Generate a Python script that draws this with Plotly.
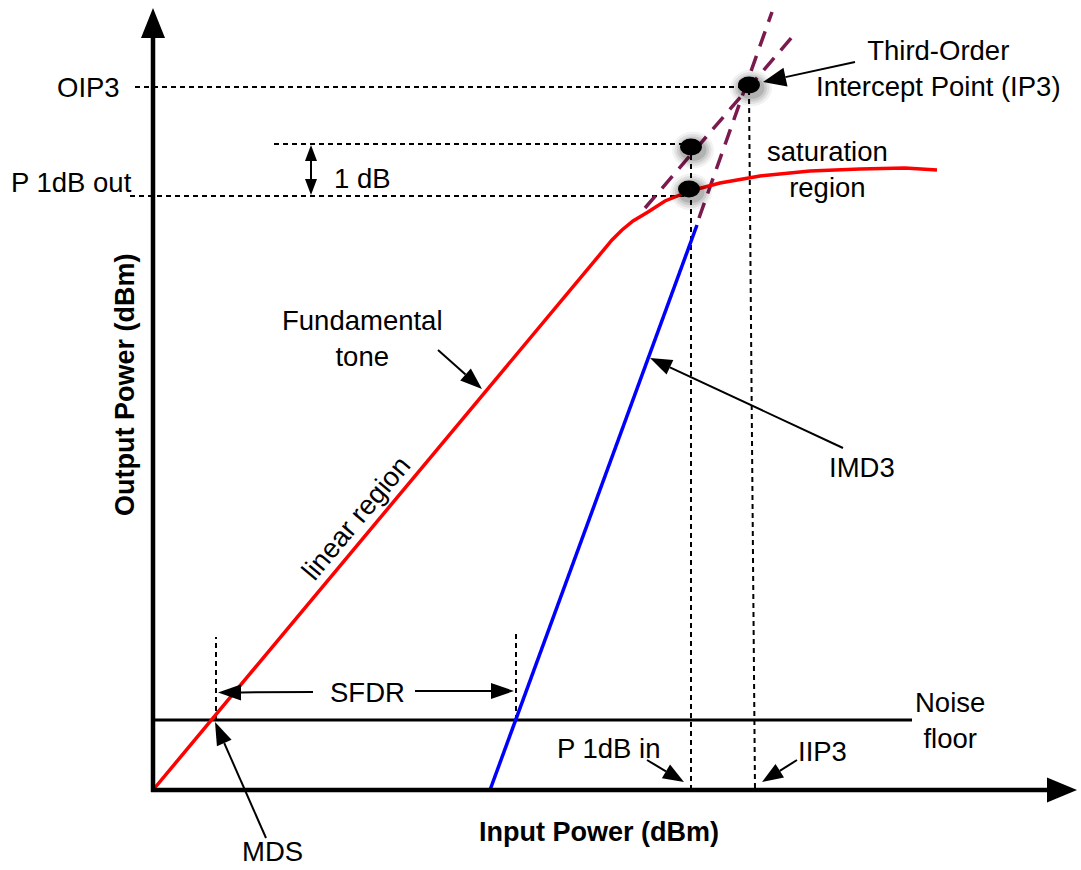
import math
import plotly.graph_objects as go

# Diagram units: 10 px per unit on both axes, origin at the axes corner.
PX = 10.0
X_RANGE = [-15.3, 92.8]
Y_RANGE = [-8.0, 79.0]

# Fundamental tone (linear region, then compression into saturation)
fund_in = [0.0, 45.9, 46.9, 48.0, 49.5, 51.2, 53.7, 56.7, 60.7, 65.7, 70.7, 75.2, 78.4]
fund_out = [0.0, 55.0, 56.0, 56.9, 57.8, 58.9, 59.9, 60.7, 61.4, 61.9, 62.1, 62.2, 62.0]

# Third-order intermodulation product
imd3_in = [33.7, 54.4]
imd3_out = [0.0, 56.5]

# Extrapolated lines meeting at the intercept point
fund_ext_in = [49.2, 64.0]
fund_ext_out = [58.2, 75.4]
imd3_ext_in = [54.6, 61.9]
imd3_ext_out = [57.2, 77.8]

# Noise floor
noise_level = 7.0
noise_end = 75.9

# Marked points: P1dB (compressed), uncompressed level, IP3
pt_in = [53.6, 53.8, 59.6]
pt_out = [60.1, 64.3, 70.5]

# Reference levels
oip3_level = 70.3
p1db_out_level = 59.4
uncompressed_level = 64.6
p1db_in_level = 53.8
iip3_top = [59.6, 70.0]
iip3_bottom = [60.2, 0.0]
mds_in = 6.3
sfdr_edge_in = 36.3

FONT = "Liberation Sans, Arial, sans-serif"
RED = "#ff0000"
BLUE = "#0000ff"
PURPLE = "#7a1a4e"

fig = go.Figure()

# Dotted guide lines
guides = [
    ([-1.8, pt_in[2]], [oip3_level, oip3_level]),
    ([12.1, pt_in[1]], [uncompressed_level, uncompressed_level]),
    ([-2.3, pt_in[0]], [p1db_out_level, p1db_out_level]),
    ([p1db_in_level, p1db_in_level], [0.0, pt_out[1]]),
    ([iip3_top[0], iip3_bottom[0]], [iip3_top[1], iip3_bottom[1]]),
    ([mds_in, mds_in], [noise_level, 15.3]),
    ([sfdr_edge_in, sfdr_edge_in], [noise_level, 16.0]),
]
for gx, gy in guides:
    fig.add_trace(go.Scatter(x=gx, y=gy, mode="lines",
                             line=dict(color="black", width=2, dash="5px,4px")))

# Noise floor
fig.add_trace(go.Scatter(x=[0.0, noise_end], y=[noise_level, noise_level], mode="lines",
                         line=dict(color="black", width=3)))

# Extrapolations
fig.add_trace(go.Scatter(x=fund_ext_in, y=fund_ext_out, mode="lines",
                         line=dict(color=PURPLE, width=3.5, dash="16px,10px")))
fig.add_trace(go.Scatter(x=imd3_ext_in, y=imd3_ext_out, mode="lines",
                         line=dict(color=PURPLE, width=3.5, dash="16px,10px")))

# Fundamental and IMD3
fig.add_trace(go.Scatter(x=imd3_in, y=imd3_out, mode="lines",
                         line=dict(color=BLUE, width=3.5)))
fig.add_trace(go.Scatter(x=fund_in, y=fund_out, mode="lines",
                         line=dict(color=RED, width=3.5)))

shapes = []


def arrow(x0, y0, x1, y1, lw=2.0, hl=22.0, hw=16.0, both=False):
    """Line from (x0,y0) to (x1,y1) with filled triangular head(s), sizes in px."""
    dx, dy = (x1 - x0), (y1 - y0)
    L = math.hypot(dx, dy)
    ux, uy = dx / L, dy / L
    nx, ny = -uy, ux
    h, w = hl / PX, hw / PX / 2

    def head(tx, ty, sx, sy):
        bx, by = tx - sx * h, ty - sy * h
        p = (f"M {tx},{ty} L {bx + nx * w},{by + ny * w} "
             f"L {bx - nx * w},{by - ny * w} Z")
        shapes.append(dict(type="path", path=p, xref="x", yref="y",
                           fillcolor="black", line=dict(width=0)))
        return bx, by

    ex, ey = head(x1, y1, ux, uy)
    sx, sy = x0, y0
    if both:
        sx, sy = head(x0, y0, -ux, -uy)
    shapes.append(dict(type="line", xref="x", yref="y", x0=sx, y0=sy, x1=ex, y1=ey,
                       line=dict(color="black", width=lw)))


# Axes
arrow(0.0, -0.2, 0.0, 78.2, lw=4.5, hl=30, hw=24)
arrow(-0.2, 0.0, 92.4, 0.0, lw=4.5, hl=30, hw=25)

# Pointer arrows
arrow(16.0, 9.8, 6.5, 9.75, hl=23, hw=16)           # SFDR left
arrow(26.2, 9.9, 36.1, 9.9, hl=23, hw=16)           # SFDR right
arrow(11.3, -4.8, 6.2, 6.8, hl=23, hw=16)           # MDS
arrow(49.4, 3.0, 53.1, 0.8, hl=21, hw=16)           # P 1dB in
arrow(64.4, 3.0, 60.9, 0.8, hl=21, hw=16)           # IIP3
arrow(70.2, 72.8, 61.0, 70.8, hl=23, hw=19)         # IP3
arrow(28.5, 44.0, 32.9, 40.1, hl=22, hw=16)         # Fundamental tone
arrow(69.0, 34.2, 49.7, 43.2, hl=22, hw=16)         # IMD3
arrow(15.8, uncompressed_level - 0.1, 15.8, p1db_out_level + 0.1,
      hl=16, hw=12, both=True)                      # 1 dB

# Points with soft shadows
dot_w, dot_h = 2.2, 1.7
for xi, yi in zip(pt_in, pt_out):
    for k, a in [(1.0, 0.05), (0.75, 0.07), (0.5, 0.09), (0.25, 0.12)]:
        shapes.append(dict(type="circle", xref="x", yref="y",
                           x0=xi - dot_w / 2 - k + 0.2, x1=xi + dot_w / 2 + k + 0.2,
                           y0=yi - dot_h / 2 - k - 0.3, y1=yi + dot_h / 2 + k - 0.3,
                           fillcolor=f"rgba(0,0,0,{a})", line=dict(width=0)))
    shapes.append(dict(type="circle", xref="x", yref="y",
                       x0=xi - dot_w / 2, x1=xi + dot_w / 2,
                       y0=yi - dot_h / 2, y1=yi + dot_h / 2,
                       fillcolor="black", line=dict(width=0)))

# Text labels
labels = [
    ("SFDR", 21.4, 9.8, "center", 0),
    ("MDS", 11.9, -6.1, "center", 0),
    ("P 1dB in", 45.5, 4.2, "center", 0),
    ("IIP3", 66.9, 3.9, "center", 0),
    ("Noise<br>floor", 79.7, 7.0, "center", 0),
    ("OIP3", -3.1, 70.3, "right", 0),
    ("P 1dB out", -1.9, 60.8, "right", 0),
    ("1 dB", 20.9, 61.2, "center", 0),
    ("saturation<br>region", 67.4, 62.1, "center", 0),
    ("Third-Order<br>Intercept Point (IP3)", 78.5, 72.2, "center", 0),
    ("Fundamental<br>tone", 20.9, 45.2, "center", 0),
    ("linear region", 20.2, 27.2, "center", -50),
    ("IMD3", 70.9, 32.3, "center", 0),
]
annotations = []
for text, x, y, anchor, ang in labels:
    annotations.append(dict(text=text, x=x, y=y, xref="x", yref="y", showarrow=False,
                            xanchor=anchor, yanchor="middle", textangle=ang,
                            font=dict(family=FONT, size=27.5, color="black")))

annotations.append(dict(text="<b>Input Power (dBm)</b>", x=44.6, y=-4.2, xref="x", yref="y",
                        showarrow=False, font=dict(family=FONT, size=27, color="black")))
annotations.append(dict(text="<b>Output Power (dBm)</b>", x=-2.8, y=40.5, xref="x", yref="y",
                        showarrow=False, textangle=-90,
                        font=dict(family=FONT, size=27, color="black")))

fig.update_layout(
    width=1081, height=870,
    margin=dict(l=0, r=0, t=0, b=0, pad=0),
    paper_bgcolor="white", plot_bgcolor="white",
    showlegend=False,
    xaxis=dict(range=X_RANGE, visible=False, fixedrange=True),
    yaxis=dict(range=Y_RANGE, visible=False, fixedrange=True),
    shapes=shapes,
    annotations=annotations,
)

fig.write_html("out.html")
